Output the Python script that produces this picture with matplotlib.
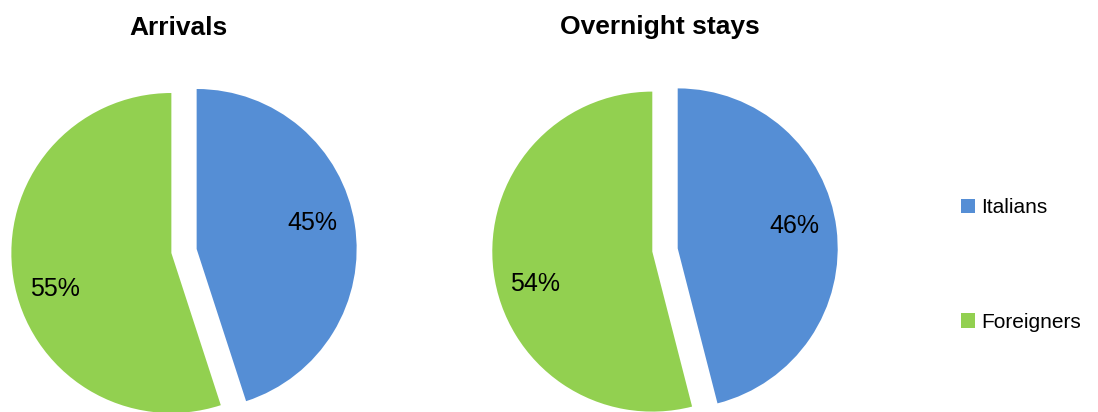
import numpy as np
import matplotlib.pyplot as plt

plt.rcParams['font.family'] = ['Liberation Sans', 'DejaVu Sans']

# Data
groups = ["Italians", "Foreigners"]
arrivals = [45, 55]
overnight = [46, 54]
titles = ["Arrivals", "Overnight stays"]
colors = ["#558ED5", "#92D050"]

W, H = 1098, 412
fig = plt.figure(figsize=(W / 100, H / 100), dpi=100)

# pie centres in pixels (x, y from top), radius ~160 px
centres = [(184, 251), (665, 250)]
lim = 1.2
size = 2 * lim * 160

wedges = None
for (cx, cy), vals, title in zip(centres, [arrivals, overnight], titles):
    ax = fig.add_axes([(cx - size / 2) / W, (H - cy - size / 2) / H, size / W, size / H])
    wedges, texts, autotexts = ax.pie(
        vals, colors=colors, startangle=90, counterclock=False,
        explode=[0.08, 0.08], autopct="%d%%", pctdistance=0.74,
        textprops={"fontsize": 18, "color": "black"},
    )
    # Excel-like label placement: nudged a little counter-clockwise
    for w, t in zip(wedges, autotexts):
        ang = np.deg2rad((w.theta1 + w.theta2) / 2 + 6)
        x0, y0 = w.center
        t.set_position((x0 + 0.75 * np.cos(ang), y0 + 0.75 * np.sin(ang) - 0.03))
    ax.set_xlim(-lim, lim)
    ax.set_ylim(-lim, lim)
    ax.set_aspect("equal")
    ax.axis("off")

fig.text(178 / W, 1 - 28 / H, titles[0], ha="center", va="center",
         fontsize=19, fontweight="bold")
fig.text(660 / W, 1 - 27 / H, titles[1], ha="center", va="center",
         fontsize=19, fontweight="bold")

fig.legend(wedges, groups, loc="center left", bbox_to_anchor=(942 / W, 1 - 265 / H),
           frameon=False, fontsize=15, handlelength=0.7, handleheight=0.7,
           handletextpad=0.3, labelspacing=4.6)

fig.savefig("out.png", dpi=100)
